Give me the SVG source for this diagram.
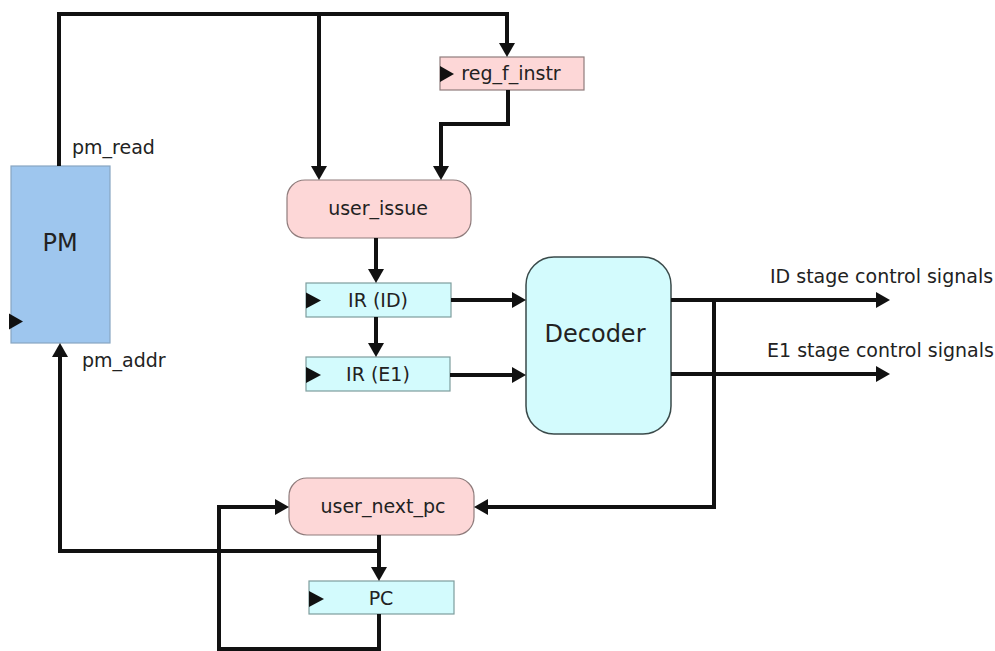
<svg xmlns="http://www.w3.org/2000/svg" width="995" height="651" viewBox="0 0 995 651">
<style>
  .lbl { font-family: "DejaVu Sans", "Liberation Sans", sans-serif; font-size: 19px; fill: #222; }
  .big { font-family: "DejaVu Sans", "Liberation Sans", sans-serif; font-size: 24px; fill: #222; }
  .pink { fill: #fdd7d7; stroke: #8f7c7c; stroke-width: 1.2; }
  .cyan { fill: #d3fbfd; stroke: #7e9d9d; stroke-width: 1.2; }
  .pm { fill: #9ec6ee; stroke: #88a6c2; stroke-width: 1.2; }
  .dec { fill: #d3fbfd; stroke: #3a4a4a; stroke-width: 1.5; }
  .clk { fill: #111; }
  .wire { fill: none; stroke: #111; stroke-width: 4; }
  .arr { marker-end: url(#ah); }
</style>
<defs>
  <marker id="ah" viewBox="0 0 14 16" refX="8" refY="8" markerWidth="14" markerHeight="16" markerUnits="userSpaceOnUse" orient="auto">
    <path d="M0,0 L14,8 L0,16 z" fill="#111"/>
  </marker>
</defs>
<rect width="995" height="651" fill="#fff"/>

<g id="PM">
  <rect class="pm" x="11" y="166" width="99" height="177"/>
  <polygon class="clk" points="9,313.5 9,329.5 23,321.5"/>
  <text class="big" x="60" y="251" text-anchor="middle">PM</text>
</g>
<g id="reg_f_instr">
  <rect class="pink" x="440" y="57" width="144" height="33"/>
  <polygon class="clk" points="440,66 440,82 454,74"/>
  <text class="lbl" x="511" y="80" text-anchor="middle">reg_f_instr</text>
</g>
<g id="user_issue">
  <rect class="pink" x="287" y="180" width="184" height="58" rx="18"/>
  <text class="lbl" x="378" y="215" text-anchor="middle">user_issue</text>
</g>
<g id="IR_ID">
  <rect class="cyan" x="306" y="283" width="145" height="34"/>
  <polygon class="clk" points="306,292.5 306,308.5 321,300.5"/>
  <text class="lbl" x="378" y="307" text-anchor="middle">IR (ID)</text>
</g>
<g id="IR_E1">
  <rect class="cyan" x="306" y="357" width="144" height="34"/>
  <polygon class="clk" points="306,367 306,383 321,375"/>
  <text class="lbl" x="378" y="381" text-anchor="middle">IR (E1)</text>
</g>
<g id="Decoder">
  <rect class="dec" x="526" y="257" width="145" height="177" rx="28"/>
  <text class="big" x="595" y="342" text-anchor="middle">Decoder</text>
</g>
<g id="user_next_pc">
  <rect class="pink" x="289" y="478" width="185" height="57" rx="18"/>
  <text class="lbl" x="383" y="513" text-anchor="middle">user_next_pc</text>
</g>
<g id="PC">
  <rect class="cyan" x="309" y="581" width="145" height="33"/>
  <polygon class="clk" points="309,591 309,607 324,599"/>
  <text class="lbl" x="381" y="605" text-anchor="middle">PC</text>
</g>

<g id="labels">
  <text class="lbl" x="72" y="154">pm_read</text>
  <text class="lbl" x="82" y="367">pm_addr</text>
  <text class="lbl" x="770" y="283">ID stage control signals</text>
  <text class="lbl" x="767" y="357">E1 stage control signals</text>
</g>

<g id="connectors">
  <path class="wire arr" d="M59,166 V14 H507 V51"/>
  <path class="wire arr" d="M319,14 V174"/>
  <path class="wire arr" d="M508,90 V124 H441 V174"/>
  <path class="wire arr" d="M376,238 V277"/>
  <path class="wire arr" d="M376,317 V351"/>
  <path class="wire arr" d="M451,300 H520"/>
  <path class="wire arr" d="M450,375 H520"/>
  <path class="wire arr" d="M671,300 H884"/>
  <path class="wire arr" d="M671,374 H884"/>
  <path class="wire arr" d="M714,300 V507 H480"/>
  <path class="wire arr" d="M379,535 V575"/>
  <path class="wire arr" d="M379,551 H60 V349"/>
  <path class="wire arr" d="M379,614 V649 H219 V507 H283"/>
</g>
</svg>
